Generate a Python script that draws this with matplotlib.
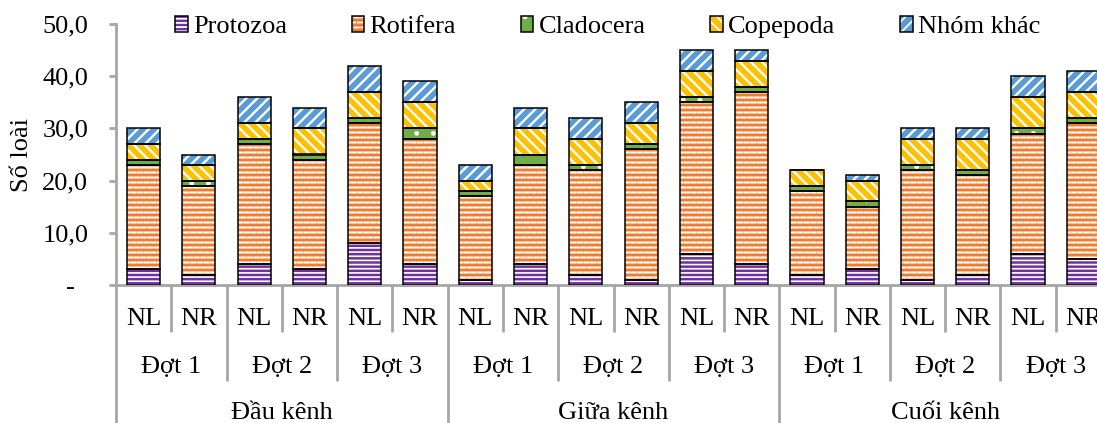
import warnings
warnings.filterwarnings('ignore')
import numpy as np
import matplotlib
matplotlib.use('Agg')
import matplotlib.pyplot as plt
import matplotlib.hatch as mhatch
import matplotlib.patches as mpatches
import matplotlib.transforms as mtransforms
from matplotlib.path import Path
from matplotlib.legend_handler import HandlerTuple

# ---------------- data ----------------
locations = ['Đầu kênh', 'Giữa kênh', 'Cuối kênh']
rounds = ['Đợt 1', 'Đợt 2', 'Đợt 3']
samples = ['NL', 'NR']

protozoa  = [3, 2, 4, 3, 8, 4,   1, 4, 2, 1, 6, 4,   2, 3, 1, 2, 6, 5]
rotifera  = [20, 17, 23, 21, 23, 24,   16, 19, 20, 25, 29, 33,   16, 12, 21, 19, 23, 26]
cladocera = [1, 1, 1, 1, 1, 2,   1, 2, 1, 1, 1, 1,   1, 1, 1, 1, 1, 1]
copepoda  = [3, 3, 3, 5, 5, 5,   2, 5, 5, 4, 5, 5,   3, 4, 5, 6, 6, 5]
nhom_khac = [3, 2, 5, 4, 5, 4,   3, 4, 4, 4, 4, 2,   0, 1, 2, 2, 4, 4]

series_names = ['Protozoa', 'Rotifera', 'Cladocera', 'Copepoda', 'Nhóm khác']
yticks = [0, 10, 20, 30, 40, 50]


# ------------- custom "brick dashes" hatch -------------
class BrickDashes(mhatch.HatchPatternBase):
    def __init__(self, hatch, density):
        self.on = '_' in hatch
        self.rows = 20
        self.cols = 15
        if self.on:
            nseg = (self.rows // 2) * self.cols + (self.rows // 2) * (self.cols + 1)
            self.num_vertices = nseg * 2
        else:
            self.num_vertices = 0

    def set_vertices_and_codes(self, vertices, codes):
        dx = 1.0 / self.cols
        dy = 1.0 / self.rows
        half = 0.32 * dx
        segs = []
        for r in range(self.rows):
            y = (r + 0.5) * dy
            if r % 2 == 0:
                for c in range(self.cols):
                    cx = (c + 0.5) * dx
                    segs.append((cx - half, cx + half, y))
            else:
                for c in range(1, self.cols):
                    cx = c * dx
                    segs.append((cx - half, cx + half, y))
                segs.append((0.0, half, y))
                segs.append((1.0 - half, 1.0, y))
        k = 0
        for x0, x1, y in segs:
            vertices[k] = (x0, y)
            vertices[k + 1] = (x1, y)
            codes[k] = Path.MOVETO
            codes[k + 1] = Path.LINETO
            k += 2


mhatch._hatch_types.append(BrickDashes)

# ---------------- style ----------------
plt.rcParams['font.family'] = ['Liberation Serif', 'DejaVu Serif']
plt.rcParams['font.size'] = 19
plt.rcParams['hatch.linewidth'] = 1.3

GRAY = '#A6A6A6'
W, H = 1097, 423
fig = plt.figure(figsize=(W / 100, H / 100), dpi=100)
ax = fig.add_axes([116 / W, 138 / H, 995 / W, 261 / H])

styles = [
    ('#7030A0', '----', 1.2),
    ('#ED7D31', '_', 1.5),
    ('#70AD47', '.', 1.0),
    ('#FFC000', '\\\\\\', 1.7),
    ('#5B9BD5', '///', 1.7),
]
data = [protozoa, rotifera, cladocera, copepoda, nhom_khac]

n = len(protozoa)
x = np.arange(n)
bottom = np.zeros(n)
handles = []


def set_hlw(p, lw):
    if hasattr(p, 'set_hatch_linewidth'):
        p.set_hatch_linewidth(lw)


for vals, (col, hatch, hlw) in zip(data, styles):
    vals = np.asarray(vals, dtype=float)
    b1 = ax.bar(x, vals, 0.6, bottom=bottom, color=col, edgecolor='white',
                hatch=hatch, linewidth=0, zorder=2)
    for p in b1:
        set_hlw(p, hlw)
    ax.bar(x, vals, 0.6, bottom=bottom, fill=False, edgecolor='black',
           linewidth=1.1, zorder=3)
    bottom += vals
    h1 = mpatches.Patch(facecolor=col, edgecolor='white', hatch=hatch, linewidth=0)
    set_hlw(h1, hlw)
    h2 = mpatches.Patch(fill=False, edgecolor='black', linewidth=1.1)
    handles.append((h1, h2))

# axes
ax.set_xlim(-0.5, n - 0.5)
ax.set_ylim(0, 50)
for s in ['top', 'right']:
    ax.spines[s].set_visible(False)
for s in ['left', 'bottom']:
    ax.spines[s].set_color(GRAY)
    ax.spines[s].set_linewidth(2)
ax.set_xticks([])
ax.set_yticks(yticks)
ax.set_yticklabels(['-  '] + [f'{v:.1f}'.replace('.', ',') for v in yticks[1:]])
ax.tick_params(axis='y', direction='out', length=5, width=2, color=GRAY,
               pad=15, labelsize=19)
ax.set_ylabel('Số loài', fontsize=19)
ax.yaxis.set_label_coords(-0.0834, 0.5)

# hierarchical category axis
trans = mtransforms.blended_transform_factory(ax.transData, ax.transAxes)
for b in range(n + 1):
    xb = b - 0.5
    if b % 6 == 0:
        yend = -0.65
    elif b % 2 == 0:
        yend = -0.366
    else:
        yend = -0.18
    ax.plot([xb, xb], [0, yend], transform=trans, color=GRAY, lw=2,
            clip_on=False, solid_capstyle='butt')

for i in range(n):
    ax.text(i, -0.153, samples[i % 2], ha='center', va='baseline',
            transform=trans, fontsize=19)
for k in range(n // 2):
    ax.text(2 * k + 0.5, -0.337, rounds[k % 3], ha='center', va='baseline',
            transform=trans, fontsize=19)
for g in range(n // 6):
    ax.text(6 * g + 2.5, -0.513, locations[g], ha='center', va='baseline',
            transform=trans, fontsize=19)

fig.legend(handles=handles, labels=series_names, loc='center left',
           bbox_to_anchor=(175 / W, 1 - 27 / H), ncol=5, frameon=False,
           borderpad=0, borderaxespad=0, handlelength=0.48, handleheight=0.57,
           handletextpad=0.2, columnspacing=2.45, fontsize=19,
           handler_map={tuple: HandlerTuple(ndivide=1, pad=0)})

fig.savefig('out.png', dpi=100)
